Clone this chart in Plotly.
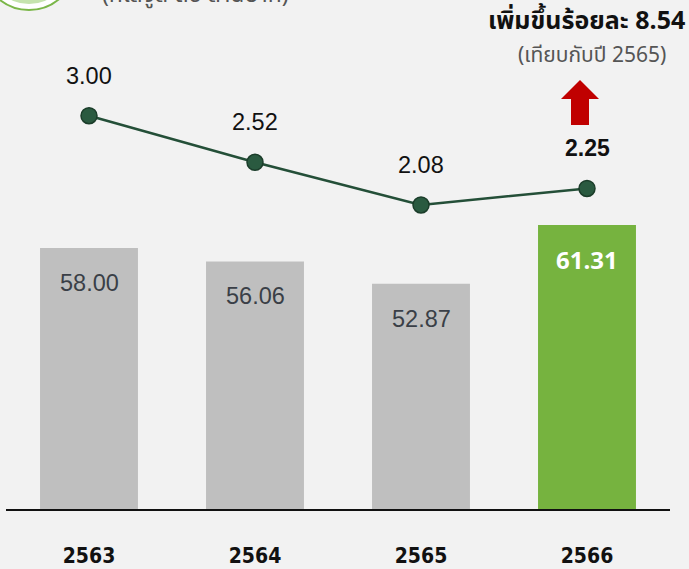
import plotly.graph_objects as go

years = ["2563", "2564", "2565", "2566"]
bar_values = [58.00, 56.06, 52.87, 61.31]
line_values = [3.00, 2.52, 2.08, 2.25]
bar_labels = ["58.00", "56.06", "52.87", "61.31"]
line_labels = ["3.00", "2.52", "2.08", "2.25"]
headline = "เพิ่มขึ้นร้อยละ 8.54"
subline = "(เทียบกับปี 2565)"
unit_text = "(กิโลจูล ต่อ ล้านบาท)"

W, H = 689, 569
L, R, T, B = 6, 19, 0, 60
PW, PH = W - L - R, H - T - B

def px(x):
    return (x - L) / PW

def py(y):
    return (H - B - y) / PH

bar_colors = ["#bfbfbf", "#bfbfbf", "#bfbfbf", "#76b33f"]
num_font = "Liberation Sans, Arial, sans-serif"
thai_font = "Noto Sans Thai, Noto Sans, Liberation Sans, sans-serif"

fig = go.Figure()
fig.add_trace(go.Bar(x=years, y=bar_values, marker=dict(color=bar_colors, line=dict(width=0)),
                     width=0.59, hoverinfo="skip"))
fig.add_trace(go.Scatter(x=years, y=line_values, yaxis="y2", mode="lines+markers",
                         line=dict(color="#244f38", width=2.5),
                         marker=dict(size=16, color="#2a5a40", line=dict(color="#1b3d2a", width=1.5)),
                         hoverinfo="skip"))

annotations = []
for i, (v, lab) in enumerate(zip(bar_values, bar_labels)):
    last = i == len(years) - 1
    annotations.append(dict(x=i, y=v, xref="x", yref="y", text=lab, showarrow=False,
                            yshift=-35, yanchor="middle",
                            font=dict(family="Open Sans, sans-serif" if last else num_font,
                                      size=24 if last else 23.5,
                                      color="white" if last else "#3a3f47",
                                      weight="bold" if last else "normal")))
for i, (v, lab) in enumerate(zip(line_values, line_labels)):
    last = i == len(years) - 1
    annotations.append(dict(x=i, y=v, xref="x", yref="y2", text=lab, showarrow=False,
                            yshift=40, yanchor="middle",
                            font=dict(family=num_font, size=23 if last else 23.5, color="#111111",
                                      weight="bold" if last else "normal")))

annotations.append(dict(x=px(687), y=py(21), xref="paper", yref="paper", text=headline,
                        showarrow=False, xanchor="right", yanchor="middle",
                        font=dict(family=thai_font, size=25, color="#111111", weight="bold")))
annotations.append(dict(x=px(668), y=py(55), xref="paper", yref="paper", text=subline,
                        showarrow=False, xanchor="right", yanchor="middle",
                        font=dict(family=thai_font, size=21, color="#555555")))
annotations.append(dict(x=px(100), y=py(14), xref="paper", yref="paper", text=unit_text,
                        showarrow=False, xanchor="left", yanchor="bottom",
                        font=dict(family=thai_font, size=23, color="#555555")))

shapes = [
    dict(type="path", xref="paper", yref="paper",
         path="M {} {} L {} {} L {} {} L {} {} L {} {} L {} {} L {} {} Z".format(
             px(580), py(80), px(599), py(99), px(589), py(99), px(589), py(125),
             px(571), py(125), px(571), py(99), px(561), py(99)),
         fillcolor="#c00000", line=dict(width=0)),
    dict(type="circle", xref="paper", yref="paper",
         x0=px(29 - 47), x1=px(29 + 47), y0=py(-37 + 47), y1=py(-37 - 47),
         fillcolor="#ffffff", line=dict(color="#7ab648", width=2)),
    dict(type="circle", xref="paper", yref="paper",
         x0=px(29 - 41), x1=px(29 + 41), y0=py(-37 + 41), y1=py(-37 - 41),
         fillcolor="#c5e3ae", line=dict(width=0)),
]

fig.update_layout(
    width=W, height=H,
    margin=dict(l=L, r=R, t=T, b=B),
    paper_bgcolor="#f2f2f2", plot_bgcolor="#f2f2f2",
    showlegend=False,
    xaxis=dict(type="category", range=[-0.5, 3.5], showgrid=False, zeroline=False,
               showline=True, linecolor="#111111", linewidth=1.5, ticks="",
               tickfont=dict(family="DejaVu Sans Condensed",
                             size=21, color="#111111", weight="bold"),
               ticklabelstandoff=27),
    yaxis=dict(range=[20.45, 93.68], visible=False, showgrid=False, zeroline=False),
    yaxis2=dict(range=[-1.055, 4.193], overlaying="y", visible=False, showgrid=False, zeroline=False),
    annotations=annotations,
    shapes=shapes,
)

fig.write_html("out.html", config={"displayModeBar": False},
               post_script="document.body.style.margin='0';document.body.style.background='#f2f2f2';")
